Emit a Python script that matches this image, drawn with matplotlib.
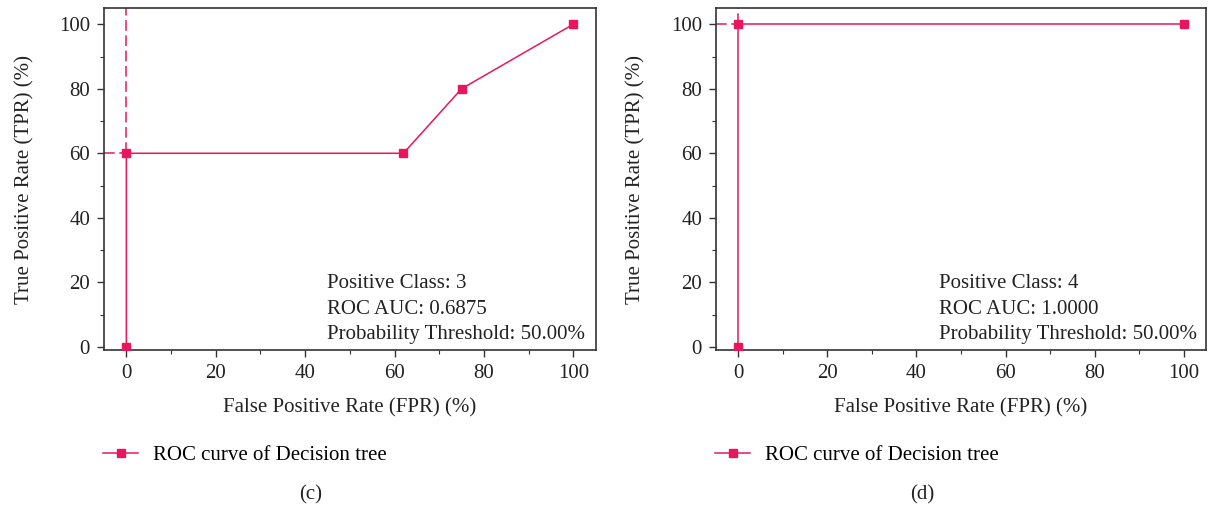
import matplotlib
matplotlib.use("Agg")
import matplotlib.pyplot as plt
from matplotlib.ticker import MultipleLocator

plt.rcParams['font.family'] = ['Liberation Serif', 'DejaVu Serif']

# ROC points (FPR %, TPR %) for each panel
fpr_c = [0, 0, 62, 75, 100]
tpr_c = [0, 60, 60, 80, 100]
fpr_d = [0, 0, 100]
tpr_d = [0, 100, 100]

# threshold point (50%) for each panel
thr_c = (0, 60)
thr_d = (0, 100)

info_c = ["Positive Class: 3", "ROC AUC: 0.6875", "Probability Threshold: 50.00%"]
info_d = ["Positive Class: 4", "ROC AUC: 1.0000", "Probability Threshold: 50.00%"]

captions = ["(c)", "(d)"]
legend_label = "ROC curve of Decision tree"

red = "#e8175d"
dark = "#333333"
txt = "#222222"
fs = 15

fig = plt.figure(figsize=(12.08, 5.08), dpi=100)
ax1 = fig.add_axes([0.0861, 0.311, 0.407, 0.673])
ax2 = fig.add_axes([0.5927, 0.311, 0.4056, 0.673])


def draw(ax, fpr, tpr, thr, info, cap):
    line, = ax.plot(fpr, tpr, color=red, lw=1.1, marker='s', ms=6,
                    mec=red, mfc=red, zorder=3)
    ax.set_xlim(-5, 105)
    ax.set_ylim(-1, 105)
    # threshold crosshair
    ax.plot([thr[0], thr[0]], [thr[1], 105], color=red, lw=1.1,
            ls=(0, (7, 3)), zorder=2)
    ax.plot([-5, thr[0]], [thr[1], thr[1]], color=red, lw=1.1,
            ls=(0, (7, 3)), zorder=2)

    ax.xaxis.set_major_locator(MultipleLocator(20))
    ax.xaxis.set_minor_locator(MultipleLocator(10))
    ax.yaxis.set_major_locator(MultipleLocator(20))
    ax.yaxis.set_minor_locator(MultipleLocator(10))
    ax.tick_params(which='major', direction='out', length=5, width=1,
                   color=dark, labelsize=fs, labelcolor=txt, pad=5)
    ax.tick_params(which='minor', direction='out', length=3, width=0.8,
                   color=dark)
    ax.tick_params(axis='x', which='both', top=False)
    ax.tick_params(axis='y', which='both', right=False)
    for s in ax.spines.values():
        s.set_color(dark)
        s.set_linewidth(1.2)

    ax.set_xlabel("False Positive Rate (FPR) (%)", fontsize=fs,
                  color=txt, labelpad=11)
    ax.set_ylabel("True Positive Rate (TPR) (%)", fontsize=fs,
                  color=txt, labelpad=18)

    for i, t in enumerate(info):
        ax.text(45, 19.5 - i * 7.8, t, fontsize=fs, color=txt,
                va='center', ha='left')

    ax.legend([line], [legend_label], loc='upper left',
              bbox_to_anchor=(-0.018, -0.256), frameon=False, fontsize=fs,
              handlelength=1.65, handletextpad=0.75, borderaxespad=0)
    ax.text(0.42, -0.424, cap, transform=ax.transAxes, fontsize=fs,
            color=txt, ha='center', va='center')


draw(ax1, fpr_c, tpr_c, thr_c, info_c, captions[0])
draw(ax2, fpr_d, tpr_d, thr_d, info_d, captions[1])

fig.savefig("out.png", dpi=100)
